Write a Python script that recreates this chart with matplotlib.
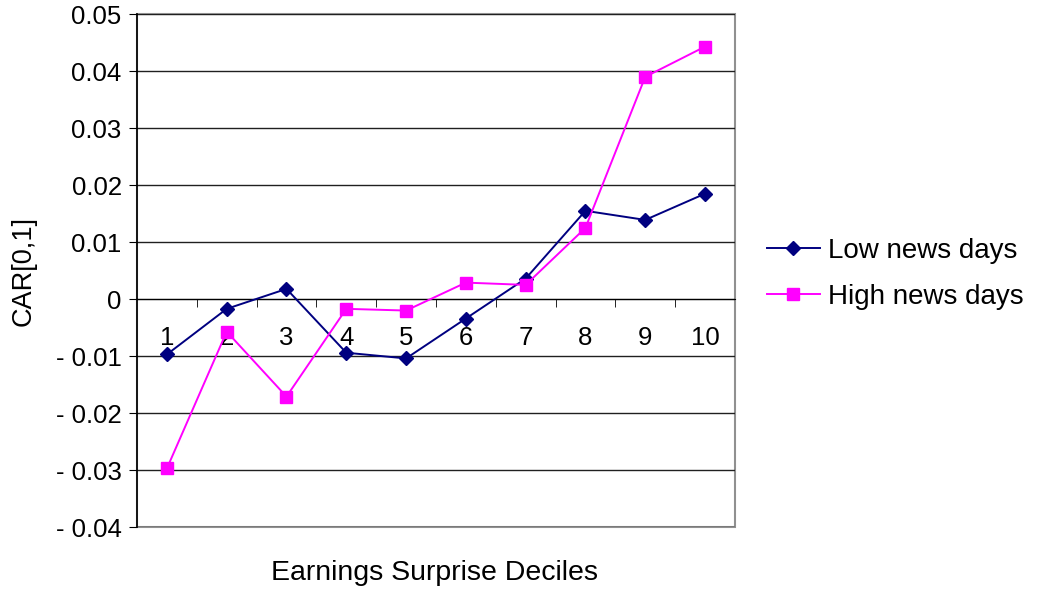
import matplotlib
matplotlib.use("Agg")
import matplotlib.pyplot as plt
import matplotlib.patches as mpatches
import numpy as np

plt.rcParams["font.family"] = ["Liberation Sans", "DejaVu Sans"]

deciles = [1, 2, 3, 4, 5, 6, 7, 8, 9, 10]
low_news = [-0.0097, -0.0017, 0.0018, -0.0094, -0.0104, -0.0034, 0.0036, 0.0155, 0.0139, 0.0185]
high_news = [-0.0297, -0.0057, -0.0171, -0.0017, -0.0020, 0.0029, 0.0025, 0.0125, 0.0390, 0.0443]
y_ticks = [-0.04, -0.03, -0.02, -0.01, 0, 0.01, 0.02, 0.03, 0.04, 0.05]


def fmt(v):
    if abs(v) < 1e-12:
        return "0"
    if v < 0:
        return f"- {abs(v):.2f}"
    return f"{v:.2f}"


fig = plt.figure(figsize=(10.38, 5.89), dpi=100)
ax = fig.add_axes([0.132, 0.105, 0.576, 0.871])

ax.set_ylim(-0.04, 0.05)
ax.set_xlim(0.5, 10.5)
ax.set_yticks(y_ticks)
ax.set_yticklabels([fmt(v) for v in y_ticks], fontsize=18.5)
ax.grid(axis="y", color="#202020", linewidth=1.0)
ax.set_axisbelow(True)

ax.plot(deciles, low_news, color="#000080", marker="D", markersize=7,
        linewidth=1.4, label="Low news days", zorder=3)
ax.plot(deciles, high_news, color="#FF00FF", marker="s", markersize=9,
        linewidth=1.4, label="High news days", zorder=3)

# category axis crossing at zero
ax.spines["bottom"].set_position(("data", 0))
ax.spines["bottom"].set_color("black")
ax.spines["left"].set_color("black")
ax.spines["left"].set_linewidth(1.2)
ax.spines["top"].set_visible(False)
ax.spines["right"].set_visible(False)
ax.add_patch(mpatches.Rectangle((0, 0), 1, 1, transform=ax.transAxes,
                                fill=False, edgecolor="#909090", linewidth=1.5,
                                zorder=0.5, clip_on=False))

ax.set_xticks(deciles)
ax.set_xticklabels([str(d) for d in deciles], fontsize=18.5)
ax.set_xticks(np.arange(1.5, 10.5, 1), minor=True)
ax.tick_params(axis="x", which="major", length=0, pad=19)
ax.tick_params(axis="x", which="minor", length=6, direction="out")
ax.tick_params(axis="y", length=6, direction="out", pad=5)

ax.set_ylabel("CAR[0,1]", fontsize=19.5, labelpad=14)
fig.text(0.419, 0.028, "Earnings Surprise Deciles", ha="center", va="center", fontsize=20.5)

fig.legend(loc="center left", bbox_to_anchor=(0.739, 0.535), frameon=False,
           borderaxespad=0, borderpad=0, fontsize=20, handlelength=1.9,
           labelspacing=0.72, handletextpad=0.3)

plt.savefig("out.png", dpi=100)
plt.close()
